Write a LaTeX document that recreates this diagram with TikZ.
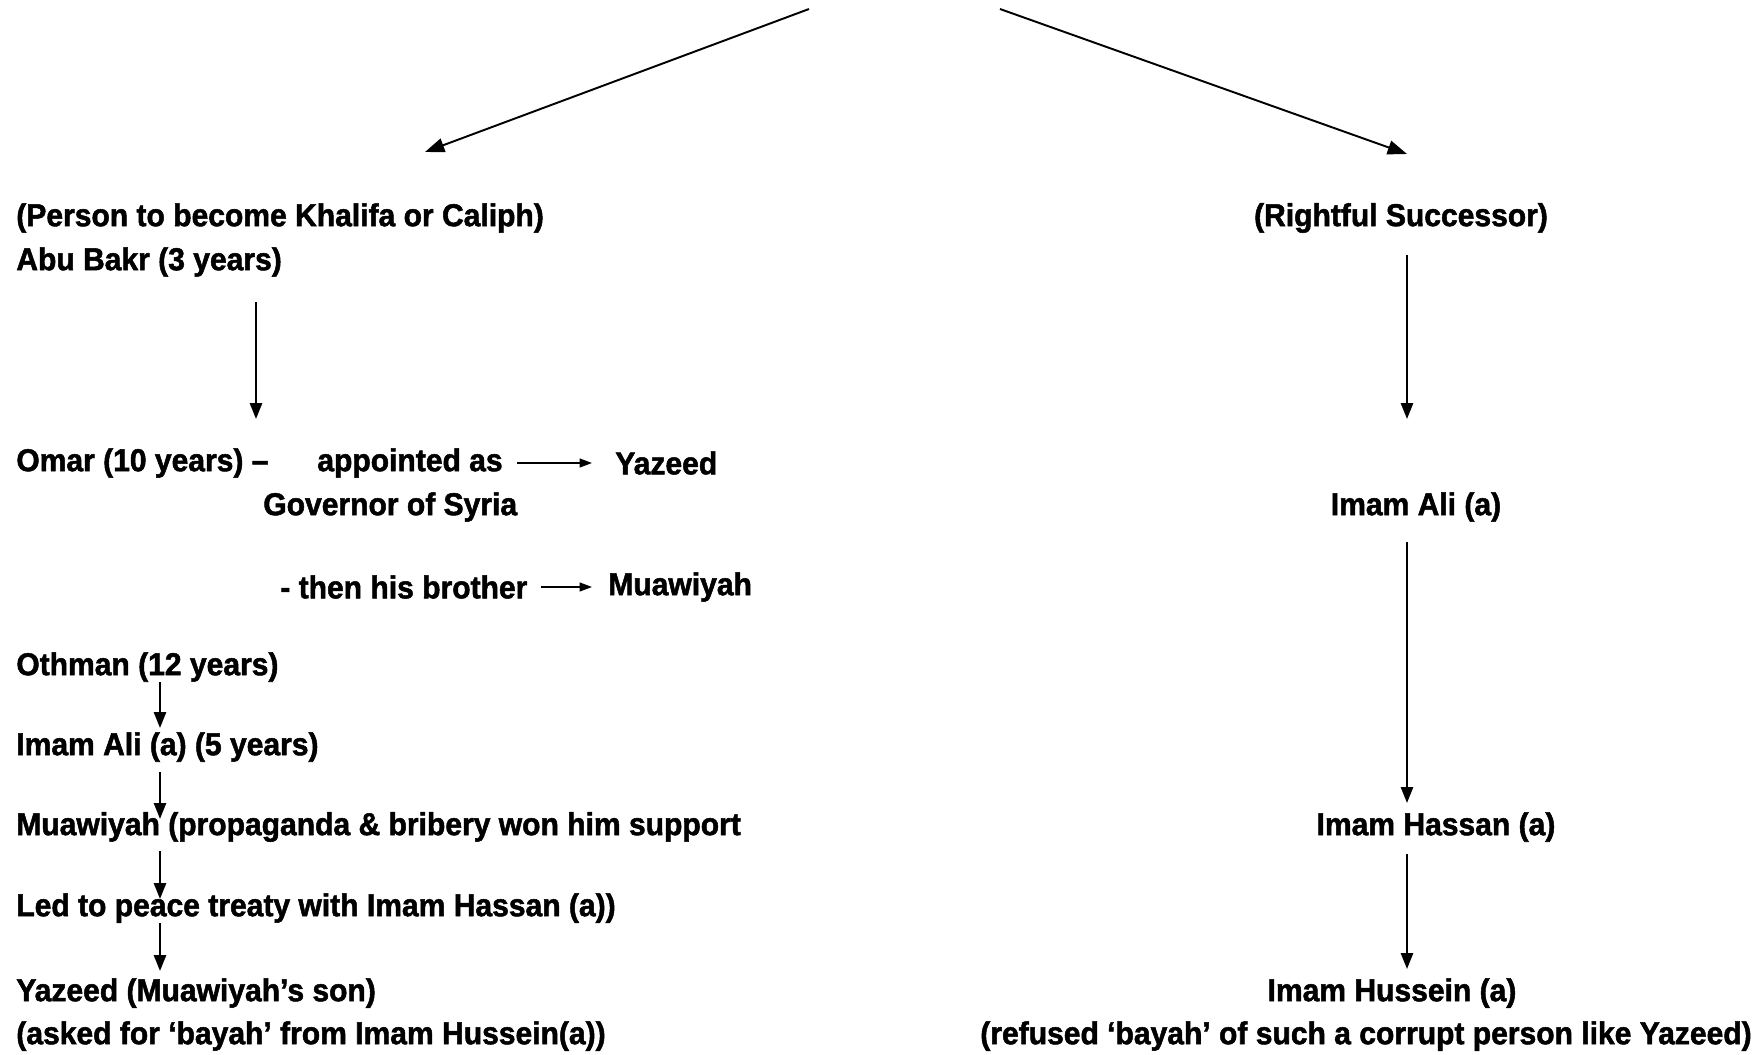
\documentclass[tikz,border=0pt]{standalone}
\usepackage{fontspec}
\setmainfont{Liberation Sans}[FakeStretch=0.95,FakeBold=1.6]
\usetikzlibrary{arrows.meta}

\tikzset{
  txt/.style={inner sep=0pt, font=\fontsize{18}{25}\selectfont\bfseries},
  lbl/.style={txt, anchor=west},
  arr/.style={-{Triangle[length=9pt,width=7pt]}, line width=0.95pt},
  bigarr/.style={-{Triangle[length=11pt,width=8pt]}, line width=1.1pt},
  smallarr/.style={-{Triangle[length=7pt,width=5pt]}, line width=0.9pt}
}

\begin{document}
\begin{tikzpicture}[x=0.02cm,y=-0.02cm]
\useasboundingbox (0,0) rectangle (1762,1055);
%\draw[step=100,gray,very thin] (0,0) grid (1762,1055);

% top split
\coordinate (topL) at (809,9);
\coordinate (topR) at (1000,9);
\coordinate (tipL) at (425,152);
\coordinate (tipR) at (1407,154);
\draw[bigarr] (topL) -- (tipL);
\draw[bigarr] (topR) -- (tipR);

% left side
\node[lbl] (person) at (16,218) {(Person to become Khalifa or Caliph)};
\node[lbl] (abubakr) at (16,262) {Abu Bakr (3 years)};
\node[lbl] (omar) at (16,463) {Omar (10 years) –};
\node[lbl] (appointed) at (317,463) {appointed as};
\node[lbl] (yazeedA) at (615,463) {Yazeed};
\node[lbl] (governor) at (263,507) {Governor of Syria};
\node[lbl] (brother) at (280,587) {- then his brother};
\node[lbl] (muawiyahA) at (608,587) {Muawiyah};
\node[lbl] (othman) at (16,667) {Othman (12 years)};
\node[lbl] (aliA) at (16,747) {Imam Ali (a) (5 years)};
\node[lbl] (muawiyahB) at (16,827) {Muawiyah (propaganda \& bribery won him support};
\node[lbl] (treaty) at (16,908) {Led to peace treaty with Imam Hassan (a))};
\node[lbl] (yazeedB) at (16,993) {Yazeed (Muawiyah’s son)};
\node[lbl] (asked) at (16,1036) {(asked for ‘bayah’ from Imam Hussein(a))};

\coordinate (colA) at (256,0);
\coordinate (colB) at (160,0);
\draw[arr, shorten <=0.5cm, shorten >=0.58cm] (abubakr.south -| colA) -- (omar.north -| colA);
\draw[smallarr, shorten <=0.28cm, shorten >=0.46cm] (appointed.east) -- (yazeedA.west);
\draw[smallarr, shorten <=0.26cm, shorten >=0.32cm] (brother.east) -- (muawiyahA.west);
\draw[arr, shorten >=0.08cm] (othman.south -| colB) -- (aliA.north -| colB);
\draw[arr, shorten <=0.2cm, shorten >=-0.14cm] (aliA.south -| colB) -- (muawiyahB.north -| colB);
\draw[arr, shorten <=0.18cm, shorten >=-0.12cm] (muawiyahB.south -| colB) -- (treaty.north -| colB);
\draw[arr, shorten >=0.14cm] (treaty.south -| colB) -- (yazeedB.north -| colB);

% right side
\node[txt] (successor) at (1401,218) {(Rightful Successor)};
\node[txt] (aliB) at (1416,507) {Imam Ali (a)};
\node[txt] (hassan) at (1436,827) {Imam Hassan (a)};
\node[txt] (hussein) at (1392,993) {Imam Hussein (a)};
\node[txt] (refused) at (1366,1036) {(refused ‘bayah’ of such a corrupt person like Yazeed)};

\coordinate (colR) at (1407,0);
\draw[arr, shorten <=0.44cm, shorten >=1.46cm] (successor.south -| colR) -- (aliB.north -| colR);
\draw[arr, shorten <=0.4cm, shorten >=0.18cm] (aliB.south -| colR) -- (hassan.north -| colR);
\draw[arr, shorten <=0.24cm, shorten >=0.18cm] (hassan.south -| colR) -- (hussein.north -| colR);
\end{tikzpicture}
\end{document}
